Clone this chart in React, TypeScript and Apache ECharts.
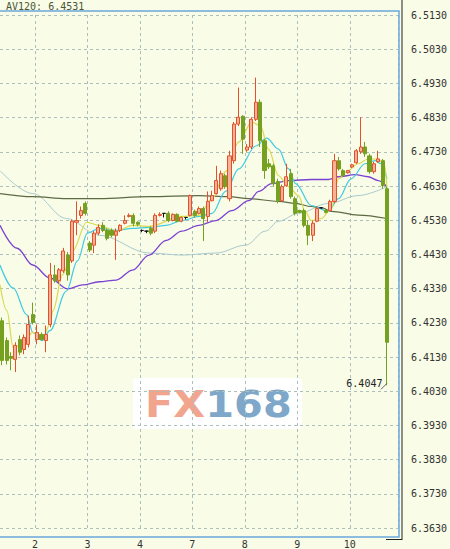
import React, { useEffect, useRef } from 'react';
import * as echarts from 'echarts';

// ---- tick labels / categories ----
const dayLabels = ['2', '3', '4', '7', '8', '9', '10'];
const dayStartIndex = [8, 20, 32, 44, 56, 68, 80];
const slotCount = 91;
const categories = Array.from({ length: slotCount }, (_, i) => String(i));

// ---- candle values (2-hour bars) ----
const opens = [
  6.4236, 6.4178, 6.4132, 6.4123, 6.4181, 6.4152, 6.4167, 6.4254, 6.4181, 6.4196,
  6.4178, 6.4225, 6.4370, 6.4353, 6.4382, 6.4428, 6.4411, 6.4524, 6.4544, 6.4579,
  6.4463, 6.4457, 6.4492, 6.4515, 6.4500, 6.4500, 6.4486, 6.4500, 6.4521, 6.4541,
  6.4544, 6.4524, 6.4500, 6.4498, 6.4506, 6.4498, 6.4544, 6.4550, 6.4550, 6.4529,
  6.4547, 6.4527, 6.4538, 6.4544, 6.4556, 6.4550, 6.4564, 6.4541, 6.4587, 6.4608,
  6.4622, 6.4660, 6.4593, 6.4704, 6.4811, 6.4834, 6.4735, 6.4744, 6.4825, 6.4875,
  6.4762, 6.4695, 6.4689, 6.4643, 6.4587, 6.4631, 6.4666, 6.4593, 6.4558, 6.4558,
  6.4515, 6.4486, 6.4527, 6.4566, 6.4558, 6.4558, 6.4585, 6.4704, 6.4675, 6.4669,
  6.4686, 6.4698, 6.4730, 6.4744, 6.4718, 6.4672, 6.4701, 6.4704, 6.4622,
];
const closes = [
  6.4120, 6.4120, 6.4126, 6.4164, 6.4144, 6.4187, 6.4225, 6.4231, 6.4202, 6.4181,
  6.4196, 6.4370, 6.4353, 6.4385, 6.4440, 6.4370, 6.4527, 6.4529, 6.4558, 6.4550,
  6.4443, 6.4492, 6.4509, 6.4500, 6.4477, 6.4486, 6.4498, 6.4515, 6.4529, 6.4544,
  6.4521, 6.4518, 6.4500, 6.4498, 6.4492, 6.4544, 6.4547, 6.4550, 6.4529, 6.4547,
  6.4527, 6.4538, 6.4538, 6.4602, 6.4544, 6.4564, 6.4535, 6.4585, 6.4602, 6.4646,
  6.4666, 6.4628, 6.4718, 6.4811, 6.4831, 6.4767, 6.4744, 6.4825, 6.4875, 6.4762,
  6.4675, 6.4686, 6.4637, 6.4587, 6.4628, 6.4657, 6.4599, 6.4550, 6.4553, 6.4515,
  6.4486, 6.4521, 6.4564, 6.4566, 6.4553, 6.4585, 6.4704, 6.4680, 6.4660, 6.4675,
  6.4692, 6.4733, 6.4744, 6.4724, 6.4672, 6.4695, 6.4709, 6.4631, 6.4173,
];
const lows = [
  6.4106, 6.4108, 6.4091, 6.4086, 6.4135, 6.4138, 6.4158, 6.4225, 6.4167, 6.4178,
  6.4144, 6.4217, 6.4347, 6.4347, 6.4376, 6.4353, 6.4405, 6.4486, 6.4535, 6.4544,
  6.4437, 6.4434, 6.4486, 6.4495, 6.4471, 6.4480, 6.4414, 6.4495, 6.4518, 6.4538,
  6.4512, 6.4512, 6.4495, 6.4492, 6.4486, 6.4492, 6.4541, 6.4538, 6.4524, 6.4527,
  6.4524, 6.4524, 6.4532, 6.4541, 6.4538, 6.4547, 6.4469, 6.4524, 6.4585, 6.4605,
  6.4616, 6.4622, 6.4585, 6.4695, 6.4805, 6.4724, 6.4730, 6.4738, 6.4820, 6.4744,
  6.4651, 6.4680, 6.4628, 6.4579, 6.4585, 6.4628, 6.4593, 6.4544, 6.4550, 6.4509,
  6.4457, 6.4469, 6.4524, 6.4564, 6.4550, 6.4556, 6.4579, 6.4675, 6.4657, 6.4666,
  6.4683, 6.4695, 6.4724, 6.4715, 6.4666, 6.4666, 6.4698, 6.4622, 6.4047,
];
const highs = [
  6.4245, 6.4187, 6.4144, 6.4173, 6.4193, 6.4196, 6.4251, 6.4289, 6.4225, 6.4202,
  6.4222, 6.4405, 6.4399, 6.4390, 6.4449, 6.4437, 6.4532, 6.4585, 6.4570, 6.4585,
  6.4469, 6.4498, 6.4518, 6.4524, 6.4506, 6.4506, 6.4506, 6.4518, 6.4544, 6.4550,
  6.4550, 6.4527, 6.4503, 6.4500, 6.4512, 6.4550, 6.4553, 6.4550, 6.4556, 6.4550,
  6.4550, 6.4541, 6.4538, 6.4605, 6.4561, 6.4570, 6.4570, 6.4614, 6.4616, 6.4689,
  6.4675, 6.4666, 6.4733, 6.4817, 6.4918, 6.4837, 6.4753, 6.4831, 6.4947, 6.4883,
  6.4767, 6.4709, 6.4695, 6.4651, 6.4634, 6.4695, 6.4680, 6.4599, 6.4561, 6.4564,
  6.4529, 6.4529, 6.4570, 6.4567, 6.4564, 6.4590, 6.4724, 6.4715, 6.4680, 6.4677,
  6.4695, 6.4738, 6.4831, 6.4759, 6.4724, 6.4701, 6.4733, 6.4709, 6.4628,
];

// ---- moving-average lines as [slot, price] ----
const maYellow = [
  [-0.5, 6.4341], [1.1, 6.4265], [2.5, 6.4158], [4.7, 6.4167], [7.0, 6.4202], [9.3, 6.4187],
  [10.9, 6.4225], [11.6, 6.4265], [13.8, 6.4370], [16.1, 6.4440], [19.3, 6.4524], [22.2, 6.4515],
  [26.1, 6.4498], [29.8, 6.4515], [33.6, 6.4512], [41.1, 6.4541], [45, 6.4544], [48, 6.4593],
  [51.1, 6.4672], [54.1, 6.4759], [57.1, 6.4817], [59.1, 6.4805], [60.9, 6.4738], [63.2, 6.4660],
  [65.5, 6.4628], [67.75, 6.4602], [69.3, 6.4556], [70.7, 6.4529], [73, 6.4535], [75.3, 6.4564],
  [76.9, 6.4651], [79.1, 6.4675], [81.4, 6.4695], [83.7, 6.4709], [86, 6.4709], [87.5, 6.4689],
  [88, 6.4622],
];
const maCyan = [
  [-0.5, 6.4399], [2.5, 6.4332], [5.6, 6.4254], [7.0, 6.4202], [9.1, 6.4178], [10.9, 6.4207],
  [14.7, 6.4323], [17.2, 6.4411], [19.5, 6.4492], [22.2, 6.4506], [26.1, 6.4500], [29.8, 6.4506],
  [33.6, 6.4509], [37.5, 6.4515], [41.1, 6.4529], [45, 6.4541], [48, 6.4550], [51.1, 6.4614],
  [54.1, 6.4680], [58, 6.4747], [60.5, 6.4770], [63.2, 6.4738], [65.5, 6.4680], [67.1, 6.4637],
  [70.7, 6.4573], [74.6, 6.4556], [76.9, 6.4593], [79.8, 6.4651], [83, 6.4695], [85.3, 6.4704],
  [86.6, 6.4695], [88, 6.4651],
];
const maPurple = [
  [-0.5, 6.4515], [3.4, 6.4448], [7.0, 6.4399], [10.9, 6.4361], [15, 6.4329], [18.4, 6.4341],
  [22.2, 6.4350], [26.1, 6.4355], [29.8, 6.4384], [33.6, 6.4428], [37.5, 6.4471], [41.1, 6.4498],
  [45, 6.4515], [48.9, 6.4529], [52.5, 6.4558], [56.4, 6.4587], [58.7, 6.4614], [61.6, 6.4637],
  [65.5, 6.4646], [70.7, 6.4649], [74.6, 6.4649], [76.9, 6.4657], [80.7, 6.4663], [83.7, 6.4657],
  [86, 6.4646], [88, 6.4628],
];
const maAv120 = [
  [-0.5, 6.4608], [7.0, 6.4599], [14.7, 6.4593], [22.2, 6.4593], [33.6, 6.4599], [45, 6.4602],
  [51.8, 6.4599], [56.4, 6.4593], [63.2, 6.4585], [67.1, 6.4579], [70.7, 6.4570], [73, 6.4567],
  [75.3, 6.4556], [81.4, 6.4545], [88, 6.4535],
];
const maSlow = [
  [-0.5, 6.4675], [7.0, 6.4608], [14.7, 6.4535], [22.2, 6.4486], [33.6, 6.4434], [41.1, 6.4428],
  [48.9, 6.4434], [55.7, 6.4457], [60.2, 6.4498], [63.2, 6.4527], [67.75, 6.4550], [74.6, 6.4579],
  [81.4, 6.4602], [88, 6.4628],
];

const legendText = 'AV120: 6.4531';
const yMin = 6.363;
const yMax = 6.513;
const yStep = 0.01;

const MONO = '"DejaVu Sans Mono", "Liberation Mono", monospace';
const BG = '#f9fce6';
const GRID_LINE = { color: '#adbfba', type: [3, 3] as number[], width: 1 };

export default function App() {
  const ref = useRef<HTMLDivElement>(null);

  useEffect(() => {
    document.body.style.margin = '0';
    const chart = echarts.init(ref.current as HTMLDivElement, null, { renderer: 'svg' });

    const candleData = opens.map((o, i) => [o, closes[i], lows[i], highs[i]]);
    const maLine = (name: string, data: number[][], color: string, width: number, z = 2) => ({
      name,
      type: 'line',
      xAxisIndex: 1,
      yAxisIndex: 0,
      data,
      symbol: 'none',
      smooth: 0.35,
      smoothMonotone: 'x',
      lineStyle: { color, width },
      z,
      silent: true,
    });

    const option: any = {
      animation: false,
      backgroundColor: BG,
      title: {
        text: legendText,
        left: 6,
        top: 1,
        padding: 0,
        textStyle: { fontSize: 10, fontWeight: 'normal', fontFamily: MONO, color: '#4b5638' },
      },
      grid: { left: 0, right: 50, top: 15, bottom: 17, containLabel: false },
      xAxis: [
        {
          type: 'category',
          data: categories,
          boundaryGap: true,
          axisLine: { show: false },
          axisTick: { show: false },
          axisLabel: {
            interval: (idx: number) => dayStartIndex.includes(idx),
            formatter: (v: string) => {
              const k = dayStartIndex.indexOf(parseInt(v, 10));
              return k >= 0 ? dayLabels[k] : '';
            },
            margin: 11,
            fontSize: 10,
            fontFamily: MONO,
            color: '#333',
            padding: [0, 4.4, 0, 0],
          },
          splitLine: {
            show: true,
            interval: (idx: number) => dayStartIndex.includes(idx),
            lineStyle: GRID_LINE,
          },
        },
        { type: 'value', min: -0.5, max: slotCount - 0.5, show: false },
      ],
      yAxis: {
        type: 'value',
        position: 'right',
        min: yMin,
        max: yMax,
        interval: yStep,
        axisLine: { show: false },
        axisTick: { show: false },
        axisLabel: {
          margin: 13,
          fontSize: 10,
          fontFamily: MONO,
          color: '#333',
          formatter: (v: number) => v.toFixed(4),
        },
        splitLine: { show: true, lineStyle: GRID_LINE },
      },
      series: [
        maLine('slow', maSlow, '#a9c9cf', 1),
        maLine('AV120', maAv120, '#5e6a46', 1.2),
        maLine('purple', maPurple, '#7b42d2', 1.3),
        maLine('cyan', maCyan, '#3fcbe2', 1.2),
        maLine('yellow', maYellow, '#d6da4e', 1.2),
        {
          type: 'candlestick',
          xAxisIndex: 0,
          yAxisIndex: 0,
          data: candleData,
          barWidth: 3.6,
          z: 3,
          itemStyle: {
            color: '#f5b39a',
            borderColor: '#e4502c',
            color0: '#76a020',
            borderColor0: '#76a020',
            borderColorDoji: '#111',
            borderWidth: 1,
          },
          markPoint: {
            symbol: 'path://M0,10L10,0',
            symbolSize: [6, 6],
            symbolOffset: [-3, 1],
            itemStyle: { color: 'none', borderColor: '#666', borderWidth: 1 },
            label: {
              show: true,
              position: 'left',
              distance: 1,
              offset: [5, -3],
              fontFamily: MONO,
              fontSize: 10,
              color: '#222',
              formatter: (p: any) => Number(p.value).toFixed(4),
            },
            data: [{ type: 'min', valueDim: 'lowest' }],
          },
        },
      ],
      graphic: [
        {
          type: 'group',
          z: 20,
          children: [
            {
              type: 'rect',
              shape: { x: 133, y: 378, width: 169, height: 51, r: 3 },
              style: { fill: '#ffffff' },
            },
            {
              type: 'text',
              x: 145,
              y: 404,
              scaleX: 1.12,
              style: {
                text: '{a|FX}{b|168}',
                textVerticalAlign: 'middle',
                align: 'left',
                rich: {
                  a: { fontSize: 37, fontWeight: 'bold', fontFamily: '"DejaVu Sans", sans-serif', fill: '#f2a58e', color: '#f2a58e' },
                  b: { fontSize: 37, fontWeight: 'bold', fontFamily: '"DejaVu Sans", sans-serif', fill: '#7ea7c9', color: '#7ea7c9' },
                },
              },
            },
          ],
        },
        {
          type: 'rect',
          z: 30,
          shape: { x: -2, y: 11, width: 401, height: 526 },
          style: { fill: 'none', stroke: '#6ba7db', lineWidth: 1.5 },
        },
        {
          type: 'line',
          z: 30,
          shape: { x1: 402, y1: 0, x2: 402, y2: 540 },
          style: { stroke: '#222', lineWidth: 1 },
        },
        {
          type: 'line',
          z: 30,
          shape: { x1: 386, y1: 539.5, x2: 402, y2: 539.5 },
          style: { stroke: '#222', lineWidth: 1 },
        },
      ],
    };

    chart.setOption(option);
    return () => chart.dispose();
  }, []);

  return <div ref={ref} style={{ width: 450, height: 549, background: BG }} />;
}
